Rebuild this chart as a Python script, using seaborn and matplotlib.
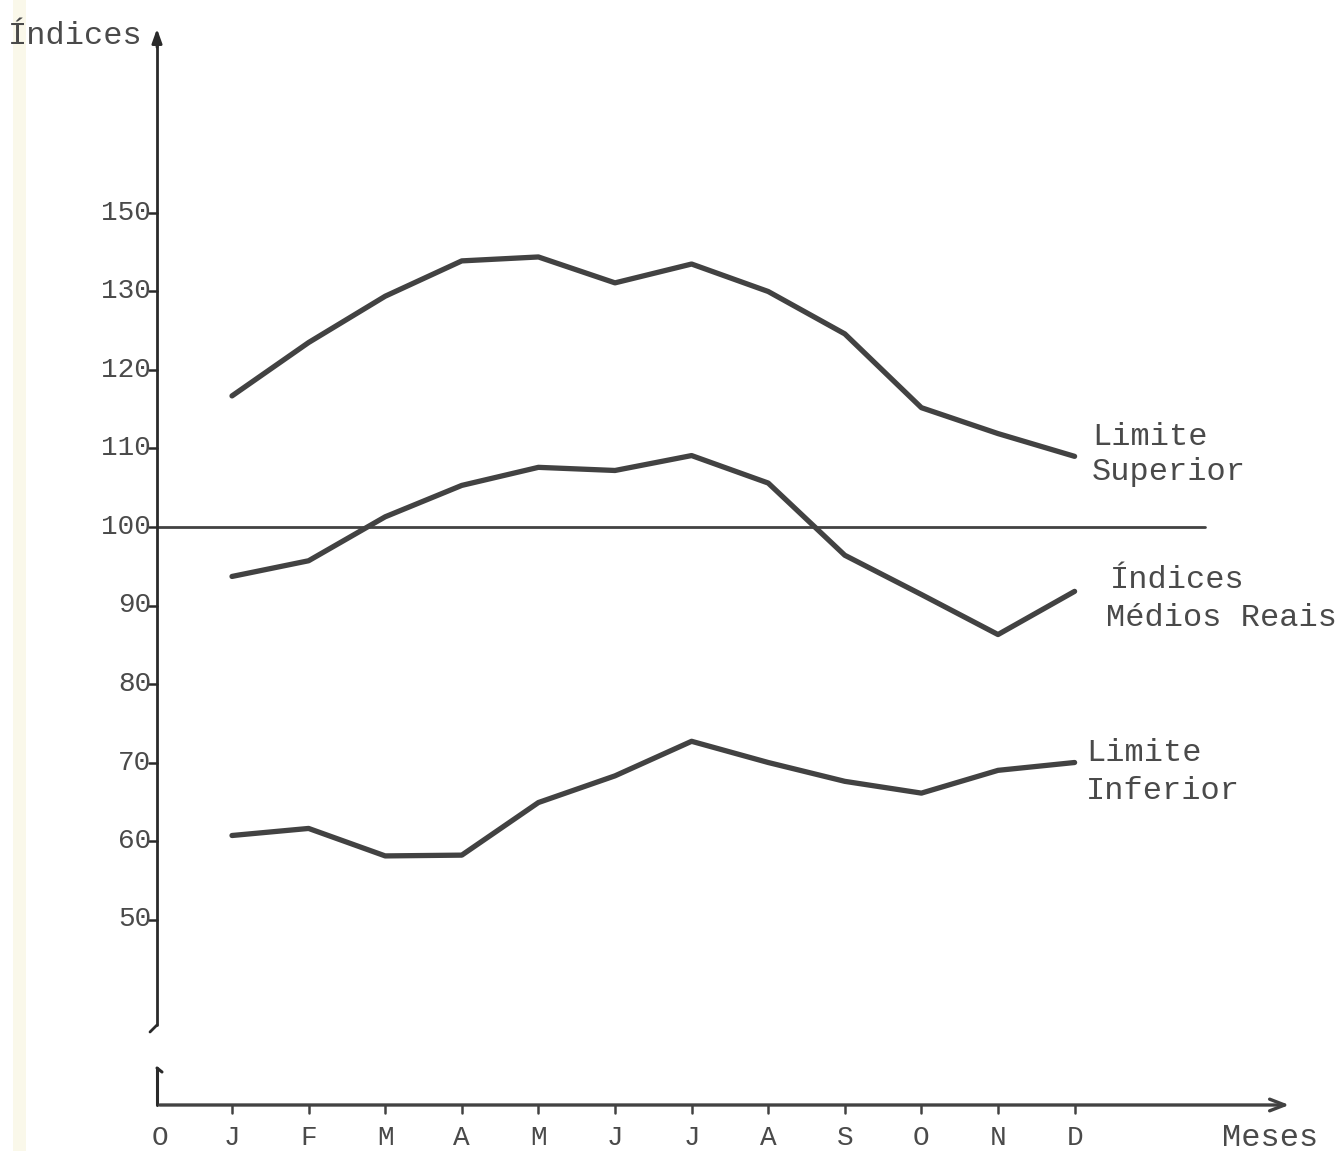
import numpy as np
import pandas as pd
import matplotlib
matplotlib.use("Agg")
import matplotlib.pyplot as plt
import seaborn as sns

# ---------------- data ----------------
meses = ["J", "F", "M", "A", "M", "J", "J", "A", "S", "O", "N", "D"]
limite_superior = [116.7, 123.5, 129.4, 133.9, 134.4, 131.1, 133.5, 130.0, 124.6, 115.2, 111.9, 109.0]
indices_medios = [93.7, 95.7, 101.3, 105.3, 107.6, 107.2, 109.1, 105.6, 96.4, 91.4, 86.3, 91.8]
limite_inferior = [60.7, 61.6, 58.1, 58.2, 64.9, 68.3, 72.7, 70.0, 67.6, 66.1, 69.0, 70.0]
y_tick_pos = [140, 130, 120, 110, 100, 90, 80, 70, 60, 50]
y_tick_lbl = ["150", "130", "120", "110", "100", "90", "80", "70", "60", "50"]
x_labels = ["O"] + meses

# ---------------- style ----------------
sns.set_theme(style="white")
plt.rcParams["font.family"] = ["Liberation Mono", "DejaVu Sans Mono"]
INK = "#424242"
TXT = "#4a4a4a"

fig = plt.figure(figsize=(13.43, 11.51), dpi=100)
ax = fig.add_axes([0, 0, 1, 1])

# pixel -> data helpers (layout only)
X0, DX = 155.4, 76.6
Y100, DY = 527.0, 7.85
def px(x):
    return (x - X0) / DX
def py(y):
    return 100 + (Y100 - y) / DY

ax.set_xlim(px(0), px(1343))
ax.set_ylim(py(1151), py(0))
ax.axis("off")

# faint scan strip at left edge
ax.axvspan(px(13), px(26), color="#f4f1d2", alpha=0.45, lw=0, zorder=0)

df = pd.DataFrame({
    "pos": list(range(1, 13)) * 3,
    "valor": limite_superior + indices_medios + limite_inferior,
    "serie": ["Limite Superior"] * 12 + ["Índices Médios Reais"] * 12 + ["Limite Inferior"] * 12,
})
sns.lineplot(data=df, x="pos", y="valor", hue="serie",
             palette=[INK, INK, INK], linewidth=3.8, legend=False,
             ax=ax, zorder=3, sort=False)

# reference line 100
ax.plot([px(157), px(1205)], [100, 100], color=INK, lw=2.0, zorder=2)

# y axis with arrow
AX = "#2a2a2a"
ax.plot([px(157), px(157)], [py(1025), py(40)], color=AX, lw=2.0)
ax.plot([px(157), px(150)], [py(1025), py(1032)], color=AX, lw=2.0)
ax.annotate("", xy=(px(157), py(26)), xytext=(px(157), py(50)),
            arrowprops=dict(arrowstyle="-|>,head_length=0.7,head_width=0.25",
                            color=AX, lw=2.0))
for v, lbl in zip(y_tick_pos, y_tick_lbl):
    ax.plot([px(149), px(157)], [v, v], color=AX, lw=1.8)
    ax.text(px(151), v, lbl, ha="right", va="center", fontsize=20, color=TXT)

ax.text(px(8), py(36), "Índices", ha="left", va="center", fontsize=23, color=TXT)

# x axis
ax.plot([px(157), px(157)], [py(1068), py(1105)], color=AX, lw=2.2)
ax.plot([px(157), px(162)], [py(1068), py(1072)], color=AX, lw=2.2)
ax.annotate("", xy=(px(1292), py(1105)), xytext=(px(157), py(1105)),
            arrowprops=dict(arrowstyle="->,head_length=0.9,head_width=0.35",
                            color=INK, lw=2.4))
for i, lbl in enumerate(x_labels):
    if i > 0:
        ax.plot([i, i], [py(1105), py(1113)], color=INK, lw=1.8)
    ax.text(i + (0.06 if i == 0 else 0), py(1138), lbl, ha="center", va="center",
            fontsize=20, color=TXT)
ax.text(px(1222), py(1138), "Meses", ha="left", va="center", fontsize=23, color=TXT)

# series labels
FS = 23
ax.text(px(1092), py(437), "Limite", ha="left", va="center", fontsize=FS, color=TXT)
ax.text(px(1092), py(472), "Superior", ha="left", va="center", fontsize=FS, color=TXT)
ax.text(px(1110), py(580), "Índices", ha="left", va="center", fontsize=FS, color=TXT)
ax.text(px(1106), py(618), "Médios Reais", ha="left", va="center", fontsize=FS, color=TXT)
ax.text(px(1086), py(753), "Limite", ha="left", va="center", fontsize=FS, color=TXT)
ax.text(px(1086), py(791), "Inferior", ha="left", va="center", fontsize=FS, color=TXT)

fig.savefig("out.png", dpi=100, facecolor="white")
